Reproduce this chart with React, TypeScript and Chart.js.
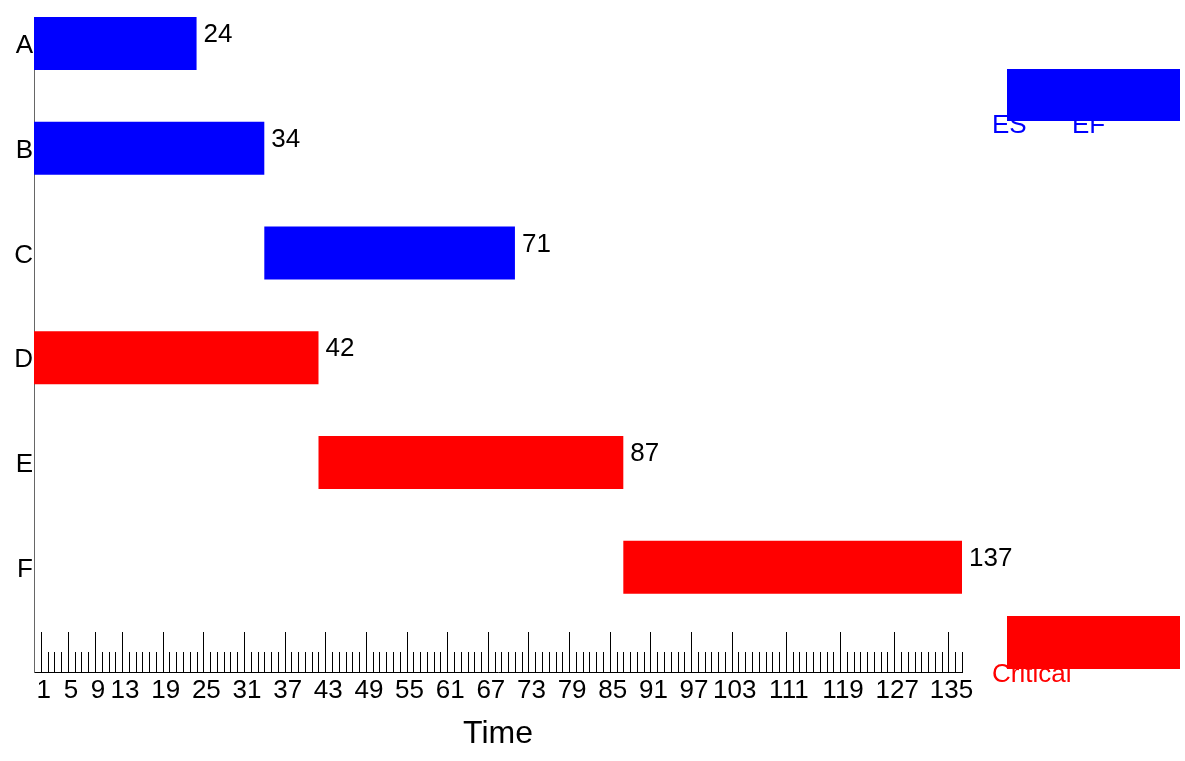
import React, { useEffect, useRef } from "react";
import { Chart, registerables } from "chart.js";

Chart.register(...registerables);

const TASKS = ["A", "B", "C", "D", "E", "F"];
const STARTS = [0, 0, 34, 0, 42, 87];
const FINISHES = [24, 34, 71, 42, 87, 137];
const CRITICAL = [false, false, false, true, true, true];
const TICK_VALUES = [1, 5, 9, 13, 19, 25, 31, 37, 43, 49, 55, 61, 67, 73, 79, 85, 91, 97, 103, 111, 119, 127, 135];
const X_MIN = 0;
const X_MAX = 137;
const LEGEND_LABELS = ["ES", "EF", "Critical"];

const BLUE = "#0000FF";
const RED = "#FF0000";
const FONT = '"Liberation Sans", Arial, Helvetica, sans-serif';

const ganttDecor = {
  id: "ganttDecor",
  afterDatasetsDraw(chart: any) {
    const { ctx, chartArea, scales } = chart;
    const x = scales.x;
    ctx.save();
    // inward tick marks
    ctx.strokeStyle = "#000";
    ctx.lineWidth = 1;
    const bottom = chartArea.bottom;
    for (let v = 1; v <= X_MAX; v++) {
      const px = Math.round(x.getPixelForValue(v)) + 0.5;
      const major = TICK_VALUES.includes(v);
      ctx.beginPath();
      ctx.moveTo(px, bottom);
      ctx.lineTo(px, bottom - (major ? 40 : 20));
      ctx.stroke();
    }
    // value labels at bar ends
    const meta = chart.getDatasetMeta(0);
    ctx.font = `26px ${FONT}`;
    ctx.fillStyle = "#000";
    ctx.textAlign = "left";
    ctx.textBaseline = "alphabetic";
    meta.data.forEach((bar: any, i: number) => {
      const p = bar.getProps(["x", "y", "height"], true);
      ctx.fillText(String(FINISHES[i]), p.x + 7, p.y - p.height / 2 + 25);
    });
    // legend (text first, boxes drawn over it)
    const lx = chartArea.right;
    ctx.fillStyle = BLUE;
    ctx.fillText(LEGEND_LABELS[0], lx + 30, chartArea.top + 116);
    ctx.fillText(LEGEND_LABELS[1], lx + 110, chartArea.top + 116);
    ctx.fillRect(lx + 45, chartArea.top + 52, 173, 52);
    ctx.fillStyle = RED;
    ctx.fillText(LEGEND_LABELS[2], lx + 30, bottom + 10);
    ctx.fillRect(lx + 45, bottom - 56, 173, 53);
    ctx.restore();
  },
};

export default function App() {
  const ref = useRef<HTMLCanvasElement>(null);

  useEffect(() => {
    if (!ref.current) return;
    const data = TASKS.map((_, i) => ({ x: [STARTS[i], FINISHES[i]], y: i }));
    const chart = new Chart(ref.current, {
      type: "bar",
      data: {
        datasets: [
          {
            data: data as any,
            backgroundColor: CRITICAL.map((c) => (c ? RED : BLUE)),
            borderWidth: 0,
            categoryPercentage: 1,
            barPercentage: 0.505,
          },
        ],
      },
      options: {
        indexAxis: "y",
        animation: false,
        responsive: true,
        maintainAspectRatio: false,
        layout: { padding: { top: 17, right: 223, left: 0, bottom: 0 } },
        plugins: { legend: { display: false }, tooltip: { enabled: false } },
        scales: {
          x: {
            type: "linear",
            position: "bottom",
            min: X_MIN,
            max: X_MAX,
            offset: false,
            grid: { display: false, drawTicks: false },
            border: { display: true, color: "#000", width: 1 },
            afterBuildTicks: (s: any) => {
              s.ticks = TICK_VALUES.map((v) => ({ value: v }));
            },
            afterFit: (s: any) => {
              s.height = 89;
            },
            ticks: {
              autoSkip: false,
              maxRotation: 0,
              minRotation: 0,
              padding: 3,
              labelOffset: 3,
              color: "#000",
              font: { family: FONT, size: 26 },
              callback: (v: any) => String(v),
            },
            title: {
              display: true,
              text: "Time",
              color: "#000",
              font: { family: FONT, size: 32 },
              padding: { top: 0, bottom: 8 },
            },
          },
          y: {
            type: "linear",
            reverse: true,
            offset: false,
            min: -0.253,
            max: 6,
            grid: { display: false, drawTicks: false },
            border: { display: true, color: "#666", width: 1 },
            afterBuildTicks: (s: any) => {
              s.ticks = TASKS.map((_, i) => ({ value: i }));
            },
            afterFit: (s: any) => {
              s.width = 34;
            },
            ticks: {
              autoSkip: false,
              padding: 1,
              labelOffset: 2.5,
              color: "#000",
              font: { family: FONT, size: 26 },
              callback: (v: any) => TASKS[v] ?? "",
            },
          },
        },
      },
      plugins: [ganttDecor],
    });
    return () => chart.destroy();
  }, []);

  return (
    <div style={{ position: "fixed", left: 0, top: 0, width: 1185, height: 761, background: "#fff" }}>
      <canvas ref={ref} />
    </div>
  );
}
